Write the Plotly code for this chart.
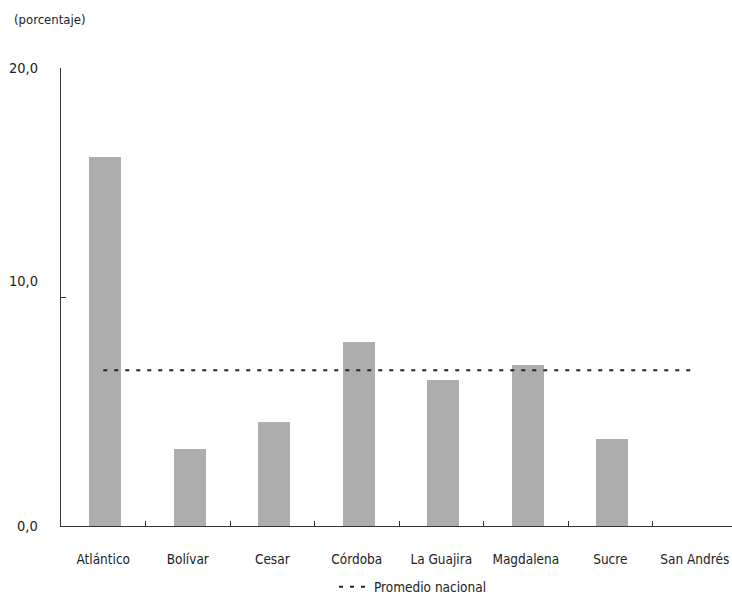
import plotly.graph_objects as go

categories = ["Atlántico", "Bolívar", "Cesar", "Córdoba", "La Guajira", "Magdalena", "Sucre", "San Andrés"]
values = [16.1, 3.35, 4.55, 8.04, 6.36, 7.03, 3.79, 0.0]
promedio_nacional = 6.8
y_tick_vals = [0, 10, 20]
y_tick_text = ["0,0", "10,0", "20,0"]
y_label_pos = [0, 10.72, 20]

FONT = "DejaVu Sans Condensed, Liberation Sans Narrow, Arial Narrow, sans-serif"
TXT = "#222222"

W, H = 732, 599
ML, MR, MT, MB = 61, 0, 68, 73
PW, PH = W - ML - MR, H - MT - MB

fig = go.Figure()
fig.add_trace(go.Bar(
    x=categories, y=values, width=0.38, offset=-0.165,
    marker=dict(color="#ADADAD", line=dict(width=0)),
    showlegend=False, hoverinfo="skip",
))
fig.add_trace(go.Scatter(
    x=categories, y=[promedio_nacional] * len(categories),
    mode="lines", name="Promedio nacional",
    line=dict(color="#222222", width=2, dash="4px,7px"),
))

annotations = [
    dict(text="(porcentaje)", xref="paper", yref="paper", x=-ML / PW, y=1 + (MT - 20) / PH,
         xanchor="left", yanchor="middle", showarrow=False, xshift=12,
         font=dict(family=FONT, size=13, color=TXT)),
]
for pos, txt in zip(y_label_pos, y_tick_text):
    annotations.append(dict(text=txt, xref="paper", yref="y", x=0, y=pos,
                            xanchor="right", yanchor="middle", showarrow=False, xshift=-21,
                            font=dict(family=FONT, size=14.5, color=TXT)))

fig.update_layout(
    width=W, height=H,
    margin=dict(l=ML, r=MR, t=MT, b=MB, autoexpand=False),
    paper_bgcolor="white", plot_bgcolor="white",
    font=dict(family=FONT, size=13, color=TXT),
    bargap=0,
    xaxis=dict(
        type="category", range=[-0.5, 7.44],
        showline=True, linecolor="#333333", linewidth=1,
        ticks="inside", ticklen=5, tickcolor="#333333", tickson="boundaries",
        ticklabelstandoff=21,
        showgrid=False, zeroline=False,
        tickfont=dict(family=FONT, size=13.5, color=TXT),
    ),
    yaxis=dict(
        range=[0, 20], tickvals=y_tick_vals, ticktext=["", "", ""],
        showline=True, linecolor="#333333", linewidth=1,
        ticks="inside", ticklen=5, tickcolor="#333333",
        showgrid=False, zeroline=False,
    ),
    legend=dict(orientation="h", x=(334 - ML) / PW, xanchor="left",
                y=-(587 - 526) / PH, yanchor="middle",
                font=dict(family=FONT, size=13.5, color=TXT), bgcolor="rgba(0,0,0,0)"),
    annotations=annotations,
)

fig.write_html(
    "out.html",
    config={"displayModeBar": False},
    post_script="document.body.style.margin='0';document.documentElement.style.overflow='hidden';document.body.style.overflow='hidden';",
)
